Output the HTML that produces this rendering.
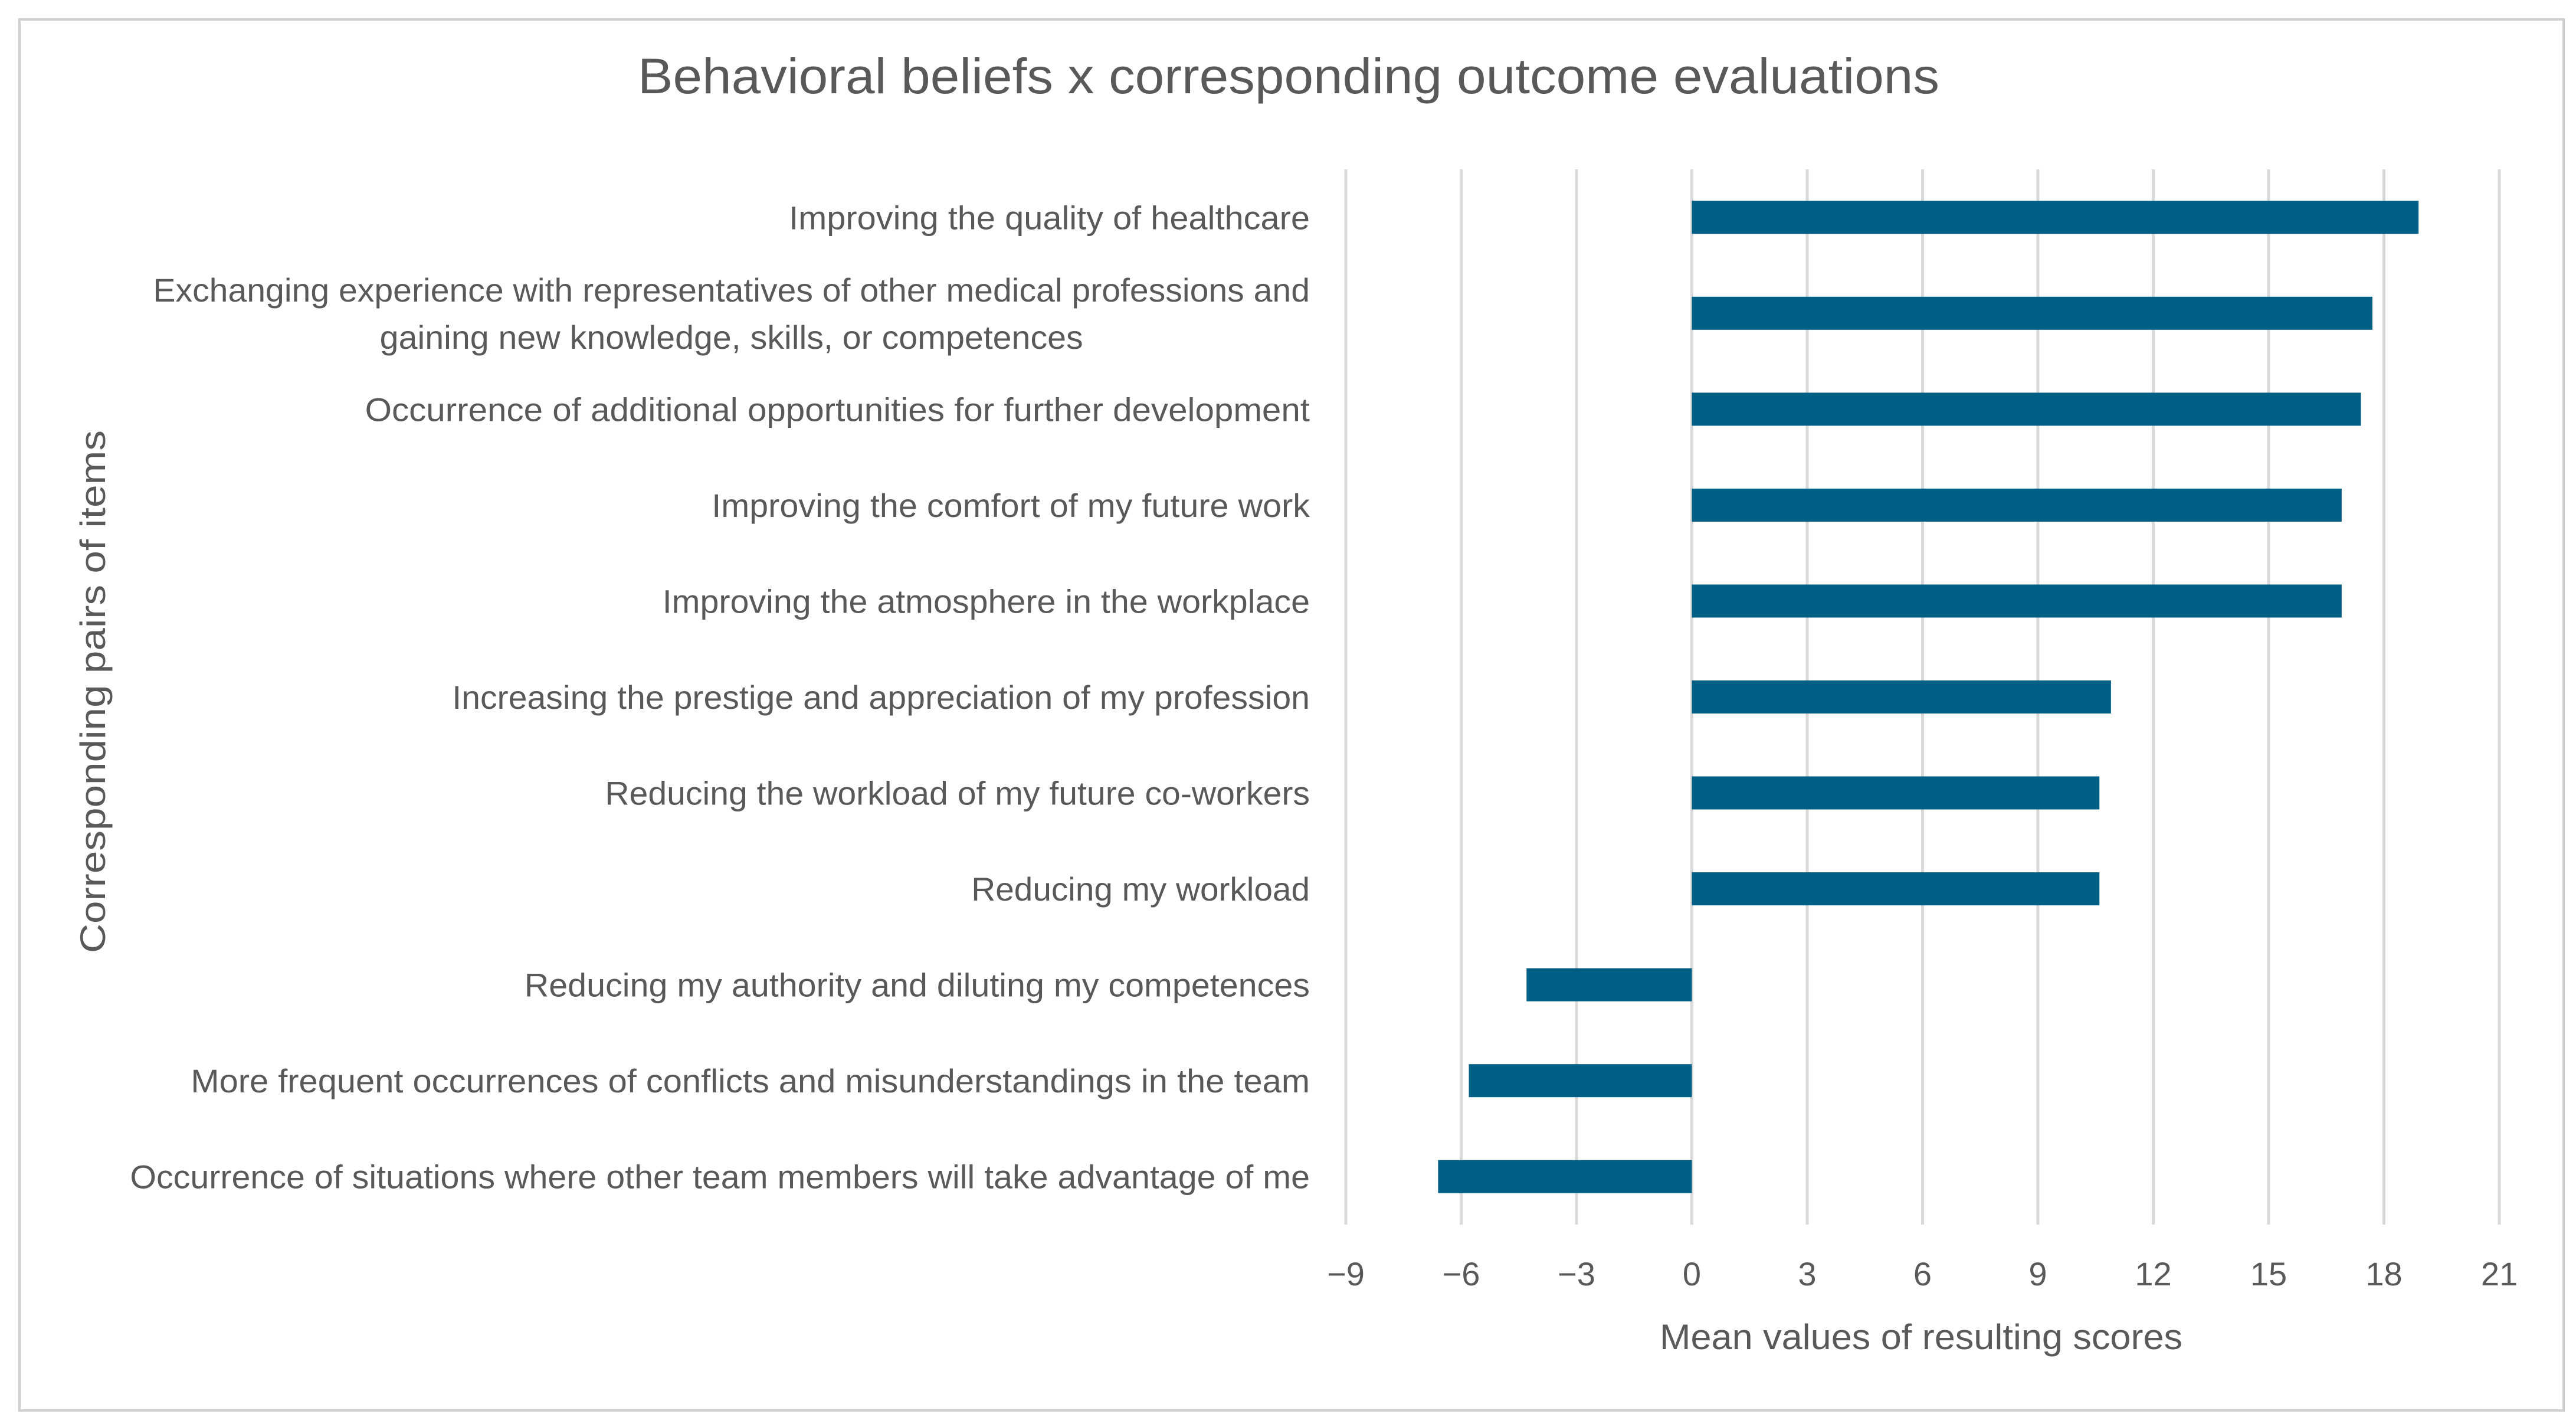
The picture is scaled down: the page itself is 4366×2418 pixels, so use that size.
<!DOCTYPE html>
<html><head><meta charset="utf-8"><style>
html,body{margin:0;padding:0;background:#fff;}
svg{display:block;font-family:"Liberation Sans",sans-serif;}
</style></head><body>
<svg id="chart" width="4366" height="2418" viewBox="0 0 4366 2418">
<rect x="33" y="33" width="4312" height="2357" fill="#fff" stroke="#d0d0d0" stroke-width="4"/>
<text x="2184" y="158" font-size="84" fill="#595959" text-anchor="middle" textLength="2206" lengthAdjust="spacingAndGlyphs">Behavioral beliefs x corresponding outcome evaluations</text>
<g id="grid"></g><g id="bars"></g><g id="labels"></g><g id="ticks"></g>
<text x="3256" y="2286" font-size="60" fill="#595959" text-anchor="middle" textLength="886" lengthAdjust="spacingAndGlyphs">Mean values of resulting scores</text>
<text transform="translate(178,1172) rotate(-90)" font-size="60" fill="#595959" text-anchor="middle" textLength="886" lengthAdjust="spacingAndGlyphs">Corresponding pairs of items</text>
</svg>
<script>
const categories = [
 ["Improving the quality of healthcare"],
 ["Exchanging experience with representatives of other medical professions and","gaining new knowledge, skills, or competences"],
 ["Occurrence of additional opportunities for further development"],
 ["Improving the comfort of my future work"],
 ["Improving the atmosphere in the workplace"],
 ["Increasing the prestige and appreciation of my profession"],
 ["Reducing the workload of my future co-workers"],
 ["Reducing my workload"],
 ["Reducing my authority and diluting my competences"],
 ["More frequent occurrences of conflicts and misunderstandings in the team"],
 ["Occurrence of situations where other team members will take advantage of me"]
];
const values = [18.9, 17.7, 17.4, 16.9, 16.9, 10.9, 10.6, 10.6, -4.3, -5.8, -6.6];
const ticks = [-9, -6, -3, 0, 3, 6, 9, 12, 15, 18, 21];
const tickLabels = ["−9", "−6", "−3", "0", "3", "6", "9", "12", "15", "18", "21"];
const labelWidthsSmall = [[317],[704,428],[575],[364],[394],[522],[429],[206],[478],[681],[718]];

const NS = "http://www.w3.org/2000/svg";
const xMin = -9, xMax = 21, px0 = 2281, px1 = 4236, plotTop = 287, plotBot = 2075;
const x = v => px0 + (v - xMin) / (xMax - xMin) * (px1 - px0);
const band = (plotBot - plotTop) / categories.length;
const yc = i => plotTop + band * (i + 0.5);
function mk(tag, attrs, parent) { const e = document.createElementNS(NS, tag); for (const k in attrs) e.setAttribute(k, attrs[k]); parent.appendChild(e); return e; }
const g = document.getElementById('grid'), b = document.getElementById('bars'), l = document.getElementById('labels'), t = document.getElementById('ticks');
ticks.forEach((v, i) => {
  const ln = mk('line', {x1: x(v), x2: x(v), y1: plotTop, y2: plotBot, stroke: '#d9d9d9', 'stroke-width': 5}, g);
  
  
  const tx = mk('text', {x: x(v), y: 2178, 'font-size': 56, fill: '#595959', 'text-anchor': 'middle'}, t);
  tx.textContent = tickLabels[i];
  
  
});
const bh = 56;
const labelRight = 2220;
values.forEach((v, i) => {
  const x0 = Math.min(x(0), x(v)), w = Math.abs(x(v) - x(0));
  const r = mk('rect', {x: x0, y: yc(i) - bh / 2, width: w, height: bh, fill: '#005f84'}, b);
  
  
  const lines = categories[i];
  const w0 = labelWidthsSmall[i][0] * 2.785;
  const center = labelRight - w0 / 2;
  lines.forEach((s, j) => {
    const yy = yc(i) + 20 + (lines.length === 2 ? (j === 0 ? -40 : 40) : 0);
    const attrs = lines.length === 2
      ? {x: center, y: yy, 'font-size': 56, fill: '#595959', 'text-anchor': 'middle', textLength: labelWidthsSmall[i][j] * 2.785, lengthAdjust: 'spacingAndGlyphs'}
      : {x: labelRight, y: yy, 'font-size': 56, fill: '#595959', 'text-anchor': 'end', textLength: w0, lengthAdjust: 'spacingAndGlyphs'};
    const tx = mk('text', attrs, l);
    tx.textContent = s;
    
    
  });
});
</script>
</body></html>
